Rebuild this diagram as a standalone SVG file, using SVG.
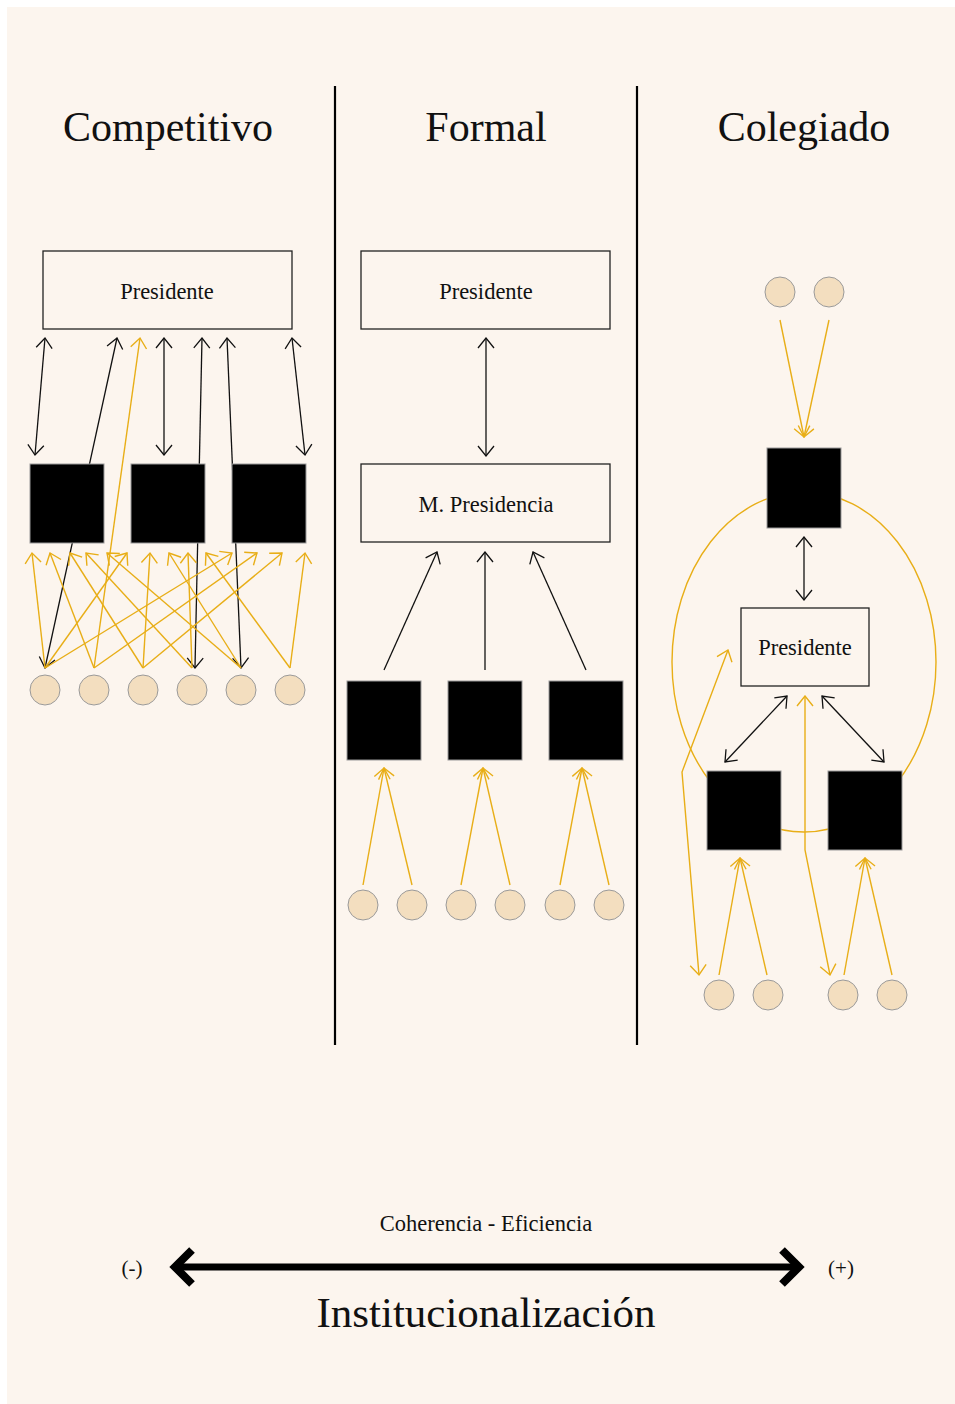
<svg xmlns="http://www.w3.org/2000/svg" width="955" height="1404" viewBox="0 0 955 1404">
<style>
.bg{fill:#FCF5EE}
.title{font-family:"Liberation Serif","DejaVu Serif",serif;font-size:42px;fill:#111;text-anchor:middle}
.lbl{font-family:"Liberation Serif","DejaVu Serif",serif;font-size:22.5px;fill:#111;text-anchor:middle}
.sm{font-family:"Liberation Serif","DejaVu Serif",serif;font-size:21px;fill:#111;text-anchor:middle}
.big{font-family:"Liberation Serif","DejaVu Serif",serif;font-size:43px;fill:#111;text-anchor:middle}
.frame{fill:none;stroke:#222;stroke-width:1.3}
.blk{fill:#000;stroke:#999;stroke-width:1}
.cit{fill:#F3DEBF;stroke:#9a9a9a;stroke-width:1}
.bl{fill:none;stroke:#111;stroke-width:1.3}
.gd{fill:none;stroke:#E8AE17;stroke-width:1.4}
.div{stroke:#000;stroke-width:2.2}
.thick{fill:none;stroke:#000;stroke-width:7}
.chev{fill:none;stroke:#000;stroke-width:8;stroke-linejoin:miter}
</style>
<defs>
<marker id="ab" markerUnits="userSpaceOnUse" viewBox="0 0 12 18" refX="11" refY="9" markerWidth="12" markerHeight="18" orient="auto-start-reverse"><path d="M1,1 L11,9 L1,17" fill="none" stroke="#111" stroke-width="1.3"/></marker>
<marker id="ag" markerUnits="userSpaceOnUse" viewBox="0 0 12 18" refX="11" refY="9" markerWidth="12" markerHeight="18" orient="auto-start-reverse"><path d="M1,1 L11,9 L1,17" fill="none" stroke="#E8AE17" stroke-width="1.4"/></marker>
</defs>
<rect class="bg" x="7" y="7" width="948" height="1397"/>

<g id="dividers">
<line class="div" x1="335" y1="86" x2="335" y2="1045"/>
<line class="div" x1="637" y1="86" x2="637" y2="1045"/>
</g>

<g id="titles">
<text class="title" x="168" y="141">Competitivo</text>
<text class="title" x="486" y="141">Formal</text>
<text class="title" x="804" y="141">Colegiado</text>
</g>

<g id="connectors">
<!-- Competitivo: black -->
<line class="bl" x1="45" y1="338" x2="35" y2="455" marker-start="url(#ab)" marker-end="url(#ab)"/>
<line class="bl" x1="164" y1="338" x2="164" y2="455" marker-start="url(#ab)" marker-end="url(#ab)"/>
<line class="bl" x1="292" y1="338" x2="305" y2="455" marker-start="url(#ab)" marker-end="url(#ab)"/>
<line class="bl" x1="117" y1="338" x2="45" y2="668" marker-start="url(#ab)" marker-end="url(#ab)"/>
<line class="bl" x1="202" y1="338" x2="195" y2="668" marker-start="url(#ab)" marker-end="url(#ab)"/>
<line class="bl" x1="227" y1="338" x2="241" y2="668" marker-start="url(#ab)" marker-end="url(#ab)"/>
<!-- Competitivo: gold -->
<line class="gd" x1="94" y1="668" x2="140" y2="338" marker-end="url(#ag)"/>
<line class="gd" x1="45" y1="668" x2="32" y2="553" marker-end="url(#ag)"/>
<line class="gd" x1="45" y1="668" x2="127" y2="553" marker-end="url(#ag)"/>
<line class="gd" x1="45" y1="668" x2="232" y2="553" marker-end="url(#ag)"/>
<line class="gd" x1="94" y1="668" x2="50" y2="553" marker-end="url(#ag)"/>
<line class="gd" x1="94" y1="668" x2="257" y2="553" marker-end="url(#ag)"/>
<line class="gd" x1="143" y1="668" x2="70" y2="553" marker-end="url(#ag)"/>
<line class="gd" x1="143" y1="668" x2="150" y2="553" marker-end="url(#ag)"/>
<line class="gd" x1="143" y1="668" x2="282" y2="553" marker-end="url(#ag)"/>
<line class="gd" x1="192" y1="668" x2="86" y2="553" marker-end="url(#ag)"/>
<line class="gd" x1="192" y1="668" x2="188" y2="553" marker-end="url(#ag)"/>
<line class="gd" x1="241" y1="668" x2="107" y2="553" marker-end="url(#ag)"/>
<line class="gd" x1="241" y1="668" x2="169" y2="553" marker-end="url(#ag)"/>
<line class="gd" x1="290" y1="668" x2="206" y2="553" marker-end="url(#ag)"/>
<line class="gd" x1="290" y1="668" x2="305" y2="553" marker-end="url(#ag)"/>

<!-- Formal -->
<line class="bl" x1="486" y1="338" x2="486" y2="456" marker-start="url(#ab)" marker-end="url(#ab)"/>
<line class="bl" x1="384" y1="670" x2="437" y2="552" marker-end="url(#ab)"/>
<line class="bl" x1="485" y1="670" x2="485" y2="552" marker-end="url(#ab)"/>
<line class="bl" x1="586" y1="670" x2="533" y2="552" marker-end="url(#ab)"/>
<line class="gd" x1="363" y1="885" x2="384" y2="768" marker-end="url(#ag)"/>
<line class="gd" x1="412" y1="885" x2="384" y2="768" marker-end="url(#ag)"/>
<line class="gd" x1="461" y1="885" x2="483" y2="768" marker-end="url(#ag)"/>
<line class="gd" x1="510" y1="885" x2="483" y2="768" marker-end="url(#ag)"/>
<line class="gd" x1="560" y1="885" x2="582" y2="768" marker-end="url(#ag)"/>
<line class="gd" x1="609" y1="885" x2="582" y2="768" marker-end="url(#ag)"/>

<!-- Colegiado -->
<ellipse class="gd" cx="804" cy="662" rx="132" ry="170"/>
<line class="gd" x1="780" y1="320" x2="804" y2="437" marker-end="url(#ag)"/>
<line class="gd" x1="829" y1="320" x2="804" y2="437" marker-end="url(#ag)"/>
<line class="bl" x1="804" y1="537" x2="804" y2="600" marker-start="url(#ab)" marker-end="url(#ab)"/>
<line class="bl" x1="787" y1="696" x2="725" y2="762" marker-start="url(#ab)" marker-end="url(#ab)"/>
<line class="bl" x1="822" y1="696" x2="884" y2="762" marker-start="url(#ab)" marker-end="url(#ab)"/>
<polyline class="gd" points="830,975 805,850 805,696" marker-start="url(#ag)" marker-end="url(#ag)"/>
<polyline class="gd" points="699,975 682,772 728,650" marker-start="url(#ag)" marker-end="url(#ag)"/>
<line class="gd" x1="719" y1="975" x2="740" y2="858" marker-end="url(#ag)"/>
<line class="gd" x1="767" y1="975" x2="740" y2="858" marker-end="url(#ag)"/>
<line class="gd" x1="844" y1="975" x2="865" y2="858" marker-end="url(#ag)"/>
<line class="gd" x1="892" y1="975" x2="865" y2="858" marker-end="url(#ag)"/>
</g>

<g id="comp-presidente">
<rect class="frame" x="43" y="251" width="249" height="78"/>
<text class="lbl" x="167" y="299">Presidente</text>
</g>
<g id="comp-ministros">
<rect class="blk" x="30" y="464" width="74" height="79"/>
<rect class="blk" x="131" y="464" width="74" height="79"/>
<rect class="blk" x="232" y="464" width="74" height="79"/>
</g>
<g id="comp-actores">
<circle class="cit" cx="45" cy="690" r="15"/>
<circle class="cit" cx="94" cy="690" r="15"/>
<circle class="cit" cx="143" cy="690" r="15"/>
<circle class="cit" cx="192" cy="690" r="15"/>
<circle class="cit" cx="241" cy="690" r="15"/>
<circle class="cit" cx="290" cy="690" r="15"/>
</g>

<g id="formal-presidente">
<rect class="frame" x="361" y="251" width="249" height="78"/>
<text class="lbl" x="486" y="299">Presidente</text>
</g>
<g id="formal-mpresidencia">
<rect class="frame" x="361" y="464" width="249" height="78"/>
<text class="lbl" x="486" y="512">M. Presidencia</text>
</g>
<g id="formal-ministros">
<rect class="blk" x="347" y="681" width="74" height="79"/>
<rect class="blk" x="448" y="681" width="74" height="79"/>
<rect class="blk" x="549" y="681" width="74" height="79"/>
</g>
<g id="formal-actores">
<circle class="cit" cx="363" cy="905" r="15"/>
<circle class="cit" cx="412" cy="905" r="15"/>
<circle class="cit" cx="461" cy="905" r="15"/>
<circle class="cit" cx="510" cy="905" r="15"/>
<circle class="cit" cx="560" cy="905" r="15"/>
<circle class="cit" cx="609" cy="905" r="15"/>
</g>

<g id="coleg-actores-top">
<circle class="cit" cx="780" cy="292" r="15"/>
<circle class="cit" cx="829" cy="292" r="15"/>
</g>
<g id="coleg-ministro-top">
<rect class="blk" x="767" y="448" width="74" height="80"/>
</g>
<g id="coleg-presidente">
<rect class="frame" x="741" y="608" width="128" height="78"/>
<text class="lbl" x="805" y="655">Presidente</text>
</g>
<g id="coleg-ministros">
<rect class="blk" x="707" y="771" width="74" height="79"/>
<rect class="blk" x="828" y="771" width="74" height="79"/>
</g>
<g id="coleg-actores">
<circle class="cit" cx="719" cy="995" r="15"/>
<circle class="cit" cx="768" cy="995" r="15"/>
<circle class="cit" cx="843" cy="995" r="15"/>
<circle class="cit" cx="892" cy="995" r="15"/>
</g>

<g id="axis">
<text class="lbl" x="486" y="1231">Coherencia - Eficiencia</text>
<line class="thick" x1="178" y1="1267" x2="796" y2="1267"/>
<polyline class="chev" points="192,1250 175,1267 192,1284"/>
<polyline class="chev" points="782,1250 799,1267 782,1284"/>
<text class="sm" x="132" y="1275">(-)</text>
<text class="sm" x="841" y="1275">(+)</text>
<text class="big" x="486" y="1327">Institucionalización</text>
</g>
</svg>
